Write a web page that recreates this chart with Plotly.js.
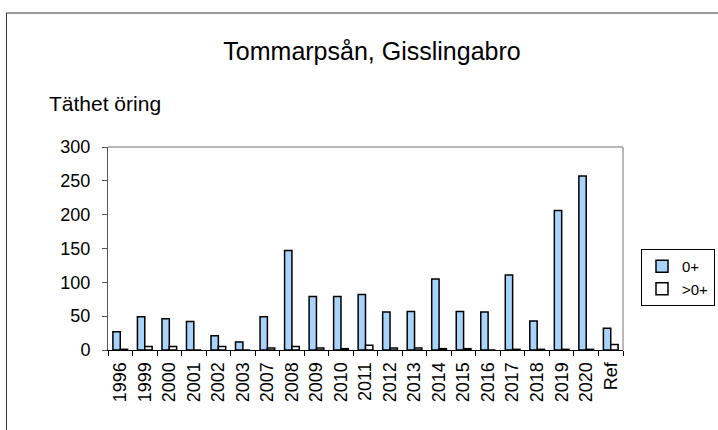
<!DOCTYPE html>
<html>
<head>
<meta charset="utf-8">
<script src="https://cdn.plot.ly/plotly-3.0.1.min.js"></script>
<style>
html,body{margin:0;padding:0;background:#fff;}
#chart{width:718px;height:430px;}
</style>
</head>
<body>
<div id="chart"></div>
<script>
const categories = ['1996','1999','2000','2001','2002','2003','2007','2008','2009','2010','2011','2012','2013','2014','2015','2016','2017','2018','2019','2020','Ref'];
const young = [27,49,46,42,21,12,49,147,79,79,82,56,57,105,57,56,111,43,206,257,32];
const older = [1,5,5,0,5,0,3,5,3,2,7,3,3,2,2,0,1,1,1,1,8];
const seriesNames = ['0+', '>0+'];
const yTicks = [0,50,100,150,200,250,300];

const FONT = 'Liberation Sans, Arial, sans-serif';

const traces = [
  {type:'bar', name:seriesNames[0], x:categories, y:young,
   marker:{color:'#a8d4fb', line:{color:'#000', width:1.5}}},
  {type:'bar', name:seriesNames[1], x:categories, y:older,
   marker:{color:'#ffffff', line:{color:'#000', width:1.5}}}
];

const L=108, R=623, T=147, B=350, W=718, H=430;
const px = v => (v-L)/(R-L);
const py = v => (B-v)/(B-T);

const layout = {
  width:W, height:H,
  margin:{l:L, r:W-R, t:T, b:H-B, pad:0, autoexpand:false},
  paper_bgcolor:'#fff', plot_bgcolor:'#fff',
  font:{family:FONT, color:'#000'},
  title:{text:'Tommarpsån, Gisslingabro', font:{size:25, family:FONT, color:'#000'},
         xref:'container', x:372/W, xanchor:'center', yref:'container', y:1-51/H, yanchor:'middle'},
  barmode:'group', bargap:0.4, bargroupgap:0,
  xaxis:{type:'category', showgrid:false, zeroline:false, showline:true, linecolor:'#000', linewidth:1,
         ticks:'outside', tickson:'boundaries', ticklen:5, tickcolor:'#000', tickwidth:1,
         tickangle:-90, tickfont:{size:18, family:FONT, color:'#000'}, ticklabelstandoff:4, automargin:false},
  yaxis:{range:[0,300], tickvals:yTicks, showgrid:false, zeroline:false, showline:true, linecolor:'#555', linewidth:1,
         ticks:'outside', ticklen:5, tickcolor:'#555', tickwidth:1,
         tickfont:{size:18, family:FONT, color:'#000'}, ticklabelstandoff:8, automargin:false},
  showlegend:true,
  legend:{x:px(641), y:py(249), xanchor:'left', yanchor:'top', bordercolor:'#000', borderwidth:1,
          bgcolor:'#fff', font:{size:15, family:FONT, color:'#000'}, itemwidth:30, tracegroupgap:4},
  annotations:[
    {text:'Täthet öring', xref:'paper', yref:'paper', x:px(47), y:py(103), xanchor:'left', yanchor:'middle',
     showarrow:false, font:{size:21, family:FONT, color:'#000'}}
  ],
  shapes:[
    {type:'line', xref:'paper', yref:'paper', x0:0, x1:1, y0:1, y1:1, line:{color:'#a0a0a0', width:1.5}},
    {type:'line', xref:'paper', yref:'paper', x0:1, x1:1, y0:0, y1:1, line:{color:'#a0a0a0', width:1.5}},
    {type:'line', xref:'paper', yref:'paper', x0:px(6.5), x1:px(6.5), y0:py(13), y1:py(H+2), line:{color:'#333', width:1}},
    {type:'line', xref:'paper', yref:'paper', x0:px(6.5), x1:px(W+2), y0:py(13), y1:py(13), line:{color:'#333', width:1}}
  ]
};

Plotly.newPlot('chart', traces, layout, {displayModeBar:false, staticPlot:true});
</script>
</body>
</html>
